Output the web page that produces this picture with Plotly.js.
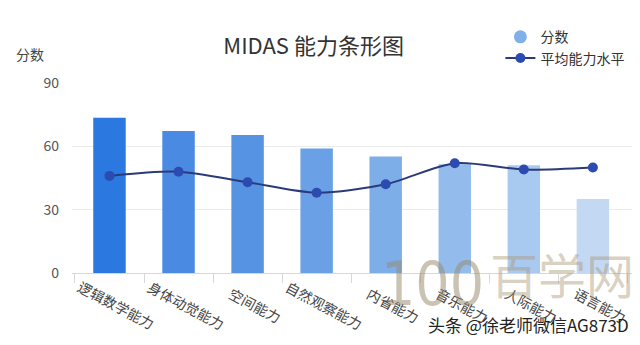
<!DOCTYPE html>
<html><head><meta charset="utf-8">
<script src="https://cdn.plot.ly/plotly-3.0.1.min.js"></script>
<style>html,body{margin:0;padding:0;background:#fff}#chart{width:640px;height:345px}</style>
</head><body><div id="chart"></div>
<script>
var categories = ["逻辑数学能力","身体动觉能力","空间能力","自然观察能力","内省能力","音乐能力","人际能力","语言能力"];
var scores = [73.5, 67.3, 65.4, 59, 55.2, 51.5, 51, 35];
var averages = [46, 48, 43, 38, 42, 52, 49, 50];
var barColors = ["#2a78e0","#4a8ae2","#5693e3","#6aa1e6","#7eaee8","#93bcec","#a9caf0","#c3d8f3"];
var yTicks = [0, 30, 60, 90];

var font = "'Noto Sans CJK SC', 'Noto Sans', sans-serif";
var traces = [
  {type:'bar', x:categories, y:scores, marker:{color:barColors}, width:0.47, showlegend:false, hoverinfo:'skip'},
  {type:'scatter', mode:'markers', x:[categories[0]], y:[null], name:'分数', marker:{color:'#7fb0e8', size:13, symbol:'circle'}},
  {type:'scatter', mode:'lines+markers', x:categories, y:averages, name:'平均能力水平',
   line:{color:'#2b3a78', width:2, shape:'spline', smoothing:0.8}, marker:{color:'#2c4bb0', size:10}}
];
var annotations = categories.map(function(c){
  return {x:c, xref:'x', y:-0.17, yref:'paper', xanchor:'center', yanchor:'middle', text:c, showarrow:false, textangle:28, xshift:7,
    font:{family:font, size:14, color:'#444'}};
});
annotations.push({x:-0.075, xref:'paper', y:1.155, yref:'paper', xanchor:'center', yanchor:'middle', text:'分数', showarrow:false,
  font:{family:font, size:14, color:'#444'}});
annotations.push({x:0.643, xref:'paper', y:-0.06, yref:'paper', xanchor:'center', yanchor:'middle', text:'100', showarrow:false,
  font:{family:"'Liberation Sans Narrow', 'DejaVu Sans Condensed', sans-serif", size:60, color:'rgba(150,135,105,0.5)'}});
annotations.push({x:0.875, xref:'paper', y:0.0, yref:'paper', xanchor:'center', yanchor:'middle', text:'百学网', showarrow:false,
  font:{family:"'Noto Sans CJK SC', serif", size:48, color:'rgba(170,150,115,0.45)'}});
annotations.push({x:0.815, xref:'paper', y:-0.27, yref:'paper', xanchor:'center', yanchor:'middle', text:'头条 @徐老师微信AG873D', showarrow:false,
  font:{family:font, size:17, color:'#222'}});

var layout = {
  width:640, height:345,
  margin:{l:72, r:8, t:83, b:72},
  paper_bgcolor:'#fff', plot_bgcolor:'#fff',
  font:{family:font, color:'#444'},
  title:{text:'MIDAS 能力条形图', x:0.49, xanchor:'center', y:0.865, yanchor:'middle', font:{family:font, size:22, color:'#333'}},
  xaxis:{type:'category', showticklabels:false, ticks:'outside', tickson:'boundaries', ticklen:9, tickcolor:'#d8d8d8',
    showline:true, linecolor:'#d8d8d8', showgrid:false, fixedrange:true},
  yaxis:{range:[0,90], tickvals:yTicks, showgrid:true, gridcolor:'#ebebeb', zeroline:false, showline:false,
    tickfont:{family:font, size:14, color:'#555'}, ticklabelstandoff:12},
  legend:{x:0.765, y:1.325, xanchor:'left', yanchor:'top', font:{family:font, size:14, color:'#333'}, tracegroupgap:0, itemwidth:30, bgcolor:'rgba(0,0,0,0)'},
  annotations:annotations,
  showlegend:true
};
Plotly.newPlot('chart', traces, layout, {displayModeBar:false, staticPlot:true});
</script></body></html>
